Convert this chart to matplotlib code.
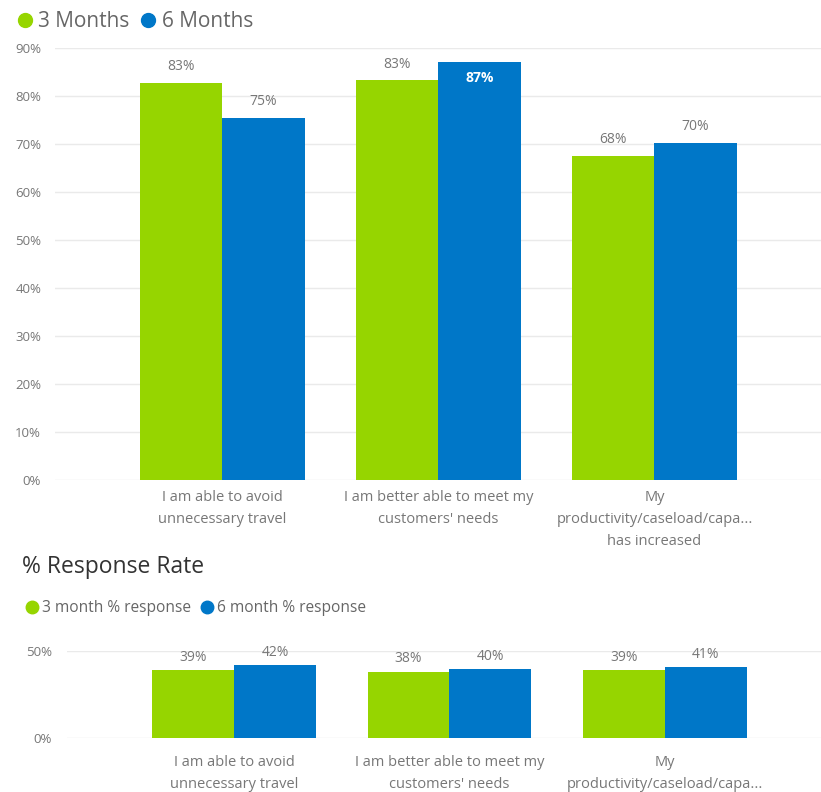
import numpy as np
import matplotlib
matplotlib.use('Agg')
from matplotlib import pyplot as plt
from matplotlib.lines import Line2D

plt.rcParams['font.family'] = ['Open Sans', 'DejaVu Sans']

# data
categories = ['I am able to avoid\nunnecessary travel',
              'I am better able to meet my\ncustomers\' needs',
              'My\nproductivity/caseload/capa...\nhas increased']
categories_short = ['I am able to avoid\nunnecessary travel',
                    'I am better able to meet my\ncustomers\' needs',
                    'My\nproductivity/caseload/capa...']
series_top = ['3 Months', '6 Months']
months3 = [82.7, 83.3, 67.6]
months6 = [75.4, 87.1, 70.3]

series_resp = ['3 month % response', '6 month % response']
resp3 = [39.2, 38.2, 39.1]
resp6 = [42.0, 39.8, 40.9]

yticks_top = [0, 10, 20, 30, 40, 50, 60, 70, 80, 90]
yticks_resp = [0, 50]

GREEN = '#96D500'
BLUE = '#0077C8'
GRID = '#EAEAEA'
LABEL = '#777777'

W, H = 821, 792
fig = plt.figure(figsize=(W / 100, H / 100), dpi=100)
fig.patch.set_facecolor('white')


def px_axes(left, top, right, bottom):
    return fig.add_axes([left / W, 1 - bottom / H, (right - left) / W, (bottom - top) / H])


def style_axes(ax, yticks, pad):
    for s in ax.spines.values():
        s.set_visible(False)
    ax.set_yticks(yticks)
    ax.set_yticklabels([f'{t}%' for t in yticks], color=LABEL, fontsize=9.5)
    ax.tick_params(axis='y', length=0, pad=pad)
    ax.tick_params(axis='x', length=0)
    ax.grid(axis='y', color=GRID, linewidth=1)
    ax.set_axisbelow(True)


bw = 0.38
x = np.arange(len(categories))

# ---- top chart ----
ax1 = px_axes(55, 48, 821, 480)
ax1.bar(x - bw / 2, months3, bw, color=GREEN)
ax1.bar(x + bw / 2, months6, bw, color=BLUE)
ax1.set_xlim(-0.775, 2.771)
ax1.set_ylim(0, 90)
style_axes(ax1, yticks_top, 10)
ax1.set_xticks(x)
ax1.set_xticklabels(categories, color=LABEL, fontsize=10.5, linespacing=1.65)
ax1.tick_params(axis='x', pad=7)

for xi, v in zip(x - bw / 2, months3):
    ax1.text(xi, v + 1.8, f'{v:.0f}%', ha='center', va='bottom', color=LABEL, fontsize=10)
for xi, v in zip(x + bw / 2, months6):
    if v > 85:
        ax1.text(xi, v - 1.8, f'{v:.0f}%', ha='center', va='top', color='white',
                 fontsize=10, fontweight='bold')
    else:
        ax1.text(xi, v + 1.8, f'{v:.0f}%', ha='center', va='bottom', color=LABEL, fontsize=10)

h_top = [Line2D([], [], marker='o', linestyle='', color=c, markersize=10) for c in (GREEN, BLUE)]
fig.legend(h_top, series_top, loc='upper left', bbox_to_anchor=(6 / W, 1 - 3 / H),
           frameon=False, ncol=2, fontsize=15, handletextpad=0.15, columnspacing=0.4,
           handlelength=1.0, borderaxespad=0, labelcolor='#666666')

# ---- response rate chart ----
fig.text(22 / W, 1 - 567 / H, '% Response Rate', fontsize=16.5, color='#333333',
         ha='left', va='center')

h_resp = [Line2D([], [], marker='o', linestyle='', color=c, markersize=9) for c in (GREEN, BLUE)]
fig.legend(h_resp, series_resp, loc='upper left', bbox_to_anchor=(18 / W, 1 - 594 / H),
           frameon=False, ncol=2, fontsize=11.2, handletextpad=0.15, columnspacing=0.5,
           handlelength=1.0, borderaxespad=0, labelcolor='#666666')

ax2 = px_axes(67, 651, 821, 738)
ax2.bar(x - bw / 2, resp3, bw, color=GREEN)
ax2.bar(x + bw / 2, resp6, bw, color=BLUE)
ax2.set_xlim(-0.775, 2.724)
ax2.set_ylim(0, 50)
style_axes(ax2, yticks_resp, 11)
ax2.set_xticks(x)
ax2.set_xticklabels(categories_short, color=LABEL, fontsize=10.5, linespacing=1.65)
ax2.tick_params(axis='x', pad=12)

for xi, v in zip(x - bw / 2, resp3):
    ax2.text(xi, v + 3, f'{v:.0f}%', ha='center', va='bottom', color=LABEL, fontsize=10, clip_on=False)
for xi, v in zip(x + bw / 2, resp6):
    ax2.text(xi, v + 3, f'{v:.0f}%', ha='center', va='bottom', color=LABEL, fontsize=10, clip_on=False)

fig.savefig('out.png', dpi=100, facecolor='white')
